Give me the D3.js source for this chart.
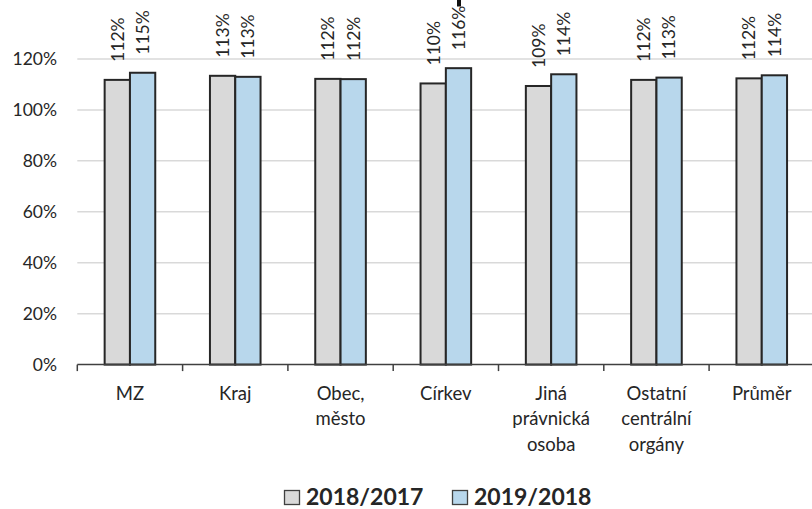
<!DOCTYPE html>
<html><head><meta charset="utf-8">
<script src="https://cdn.jsdelivr.net/npm/d3@7"></script>
<style>body{margin:0;background:#fff}svg{display:block}</style>
</head><body><svg id="c" width="812" height="509"></svg>
<script>
const categories = [["MZ"],["Kraj"],["Obec,","město"],["Církev"],["Jiná","právnická","osoba"],["Ostatní","centrální","orgány"],["Průměr"]];
const seriesNames = ["2018/2017","2019/2018"];
const series2018 = [111.8,113.4,112.2,110.4,109.4,111.8,112.4];
const series2019 = [114.6,113.0,112.1,116.4,114.0,112.7,113.6];
const yTicks = [0,20,40,60,80,100,120];
const colors = ["#d9d9d9","#b8d7ec"];

const svg = d3.select("#c");
const font = "Lato, 'Open Sans', sans-serif";
const catIdx = d3.range(categories.length);
const x = d3.scaleBand().domain(catIdx).range([77.3, 814.4]);
const barW = 25.3;
const x1 = d3.scaleBand().domain([0,1]).range([x.bandwidth()/2 - barW, x.bandwidth()/2 + barW]);
const y = d3.scaleLinear().domain([0,120]).range([364.6, 59]);

// gridlines
svg.append("g").selectAll("line").data(yTicks.filter(t=>t>0)).join("line")
  .attr("x1",77.3).attr("x2",812).attr("y1",d=>y(d)).attr("y2",d=>y(d))
  .attr("stroke","#d9d9d9").attr("stroke-width",1.5);

// y tick labels
svg.append("g").selectAll("text").data(yTicks).join("text")
  .attr("x",57).attr("y",d=>y(d)).attr("dy","0.36em").attr("text-anchor","end")
  .attr("font-family",font).attr("font-size",17.5).attr("fill","#262626")
  .text(d=>d+"%");

// bars
const data = [];
catIdx.forEach(i=>{ data.push({c:i,s:0,v:series2018[i]}); data.push({c:i,s:1,v:series2019[i]}); });
svg.append("g").selectAll("rect").data(data).join("rect")
  .attr("x",d=>x(d.c)+x1(d.s)).attr("width",x1.bandwidth())
  .attr("y",d=>y(d.v)).attr("height",d=>y(0)-y(d.v))
  .attr("fill",d=>colors[d.s]).attr("stroke","#262626").attr("stroke-width",2);

// x axis
const axis = d3.axisBottom(x).tickValues([]).tickSizeOuter(0);
const ax = svg.append("g").attr("transform",`translate(0,${y(0)})`);
ax.append("line").attr("x1",77.3).attr("x2",812).attr("stroke","#404040").attr("stroke-width",1.5);
ax.selectAll(".tk").data(catIdx).join("line").attr("class","tk")
  .attr("x1",d=>x(d)).attr("x2",d=>x(d)).attr("y1",0).attr("y2",6.5)
  .attr("stroke","#404040").attr("stroke-width",1.5);

// category labels
const cl = svg.append("g").selectAll("text").data(catIdx).join("text")
  .attr("text-anchor","middle").attr("font-family",font).attr("font-size",18.5).attr("fill","#262626");
cl.selectAll("tspan").data(i=>categories[i].map(t=>({t,i}))).join("tspan")
  .attr("x",d=>x(d.i)+x.bandwidth()/2).attr("y",(d,j)=>400+j*25.3).text(d=>d.t);

// data labels
svg.append("g").selectAll("text").data(data).join("text")
  .attr("transform",d=>`translate(${x(d.c)+x1(d.s)+x1.bandwidth()/2},${y(d.v)-18}) rotate(-90)`)
  .attr("dy","0.36em").attr("font-family",font).attr("font-size",17.5).attr("fill","#262626")
  .text(d=>Math.round(d.v)+"%");

// small stray marker above Církev 2019 label
const cm = data.find(d=>d.c===3&&d.s===1);
svg.append("rect").attr("x",x(cm.c)+x1(cm.s)+x1.bandwidth()/2-1.5).attr("y",0).attr("width",4).attr("height",6.5).attr("fill","#111");

// legend
const lg = svg.append("g");
const legX = [284, 452];
seriesNames.forEach((n,i)=>{
  lg.append("rect").attr("x",legX[i]+0.5).attr("y",490.5).attr("width",15).attr("height",14)
    .attr("fill",colors[i]).attr("stroke","#404040").attr("stroke-width",1.3);
  lg.append("text").attr("x",legX[i]+22).attr("y",505).attr("font-family",font).attr("font-weight","bold")
    .attr("font-size",23).attr("fill","#262626").text(n);
});
</script></body></html>
